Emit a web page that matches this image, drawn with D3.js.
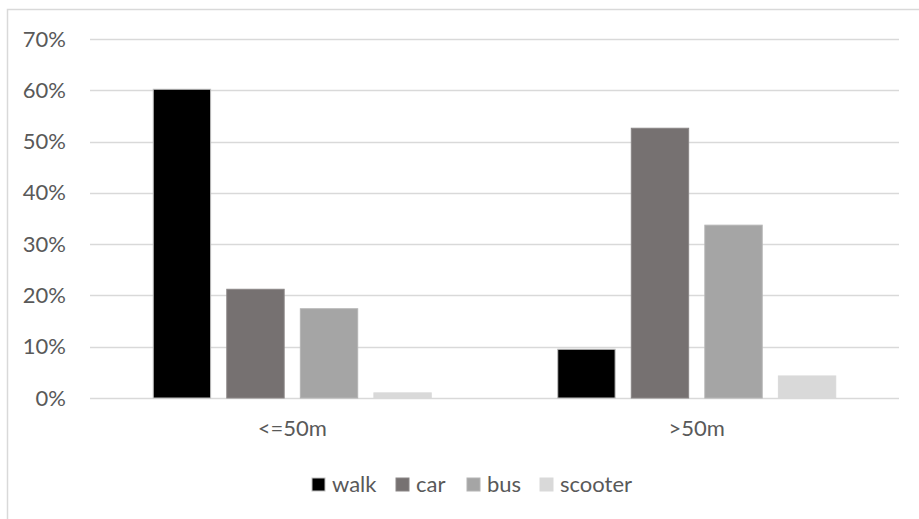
<!DOCTYPE html>
<html>
<head>
<meta charset="utf-8">
<script src="https://cdn.jsdelivr.net/npm/d3@7"></script>
<style>
  html, body { margin: 0; padding: 0; background: #fff; }
  svg { display: block; }
  text { font-family: Lato, "Noto Sans", sans-serif; fill: #595959; }
</style>
</head>
<body>
<svg id="chart" width="919" height="519"></svg>
<script>
const categories = ["<=50m", ">50m"];
const series = ["walk", "car", "bus", "scooter"];
const walk = [60.2, 9.5];
const car = [21.2, 52.6];
const bus = [17.4, 33.7];
const scooter = [1.0, 4.3];
const yTicks = [0, 10, 20, 30, 40, 50, 60, 70];

const values = { walk, car, bus, scooter };
const colors = { walk: "#000000", car: "#767171", bus: "#a5a5a5", scooter: "#d9d9d9" };
const strokes = { walk: "#bfbfbf", car: "#8a8686", bus: "#b4b4b4", scooter: "#d9d9d9" };
const fontSize = 22;

const svg = d3.select("#chart");
const plot = { left: 90, right: 899, top: 39, bottom: 398 };

// outer chart frame
svg.append("rect")
  .attr("x", 7.5).attr("y", 9.5)
  .attr("width", 930).attr("height", 530)
  .attr("fill", "none").attr("stroke", "#d9d9d9").attr("stroke-width", 1.5);

const y = d3.scaleLinear().domain([0, 70]).range([plot.bottom, plot.top]);
const x0 = d3.scaleBand().domain(categories).range([plot.left, plot.right]).padding(0);
const x1 = d3.scaleBand().domain(series).range([0, x0.bandwidth()])
  .paddingInner(0.22).paddingOuter(0.86);

// gridlines
svg.append("g")
  .selectAll("line")
  .data(yTicks)
  .join("line")
  .attr("x1", plot.left).attr("x2", plot.right)
  .attr("y1", d => Math.round(y(d)) + 0.5).attr("y2", d => Math.round(y(d)) + 0.5)
  .attr("stroke", "#d9d9d9").attr("stroke-width", 1.5);

// y axis labels
const yAxis = d3.axisLeft(y).tickValues(yTicks).tickFormat(d => d + "%").tickSize(0).tickPadding(24);
const gy = svg.append("g").attr("transform", `translate(${plot.left},0)`).call(yAxis);
gy.select(".domain").remove();
gy.selectAll("text").attr("font-size", fontSize).attr("fill", "#595959")
  .style("font-family", "Lato, 'Noto Sans', sans-serif");

// bars
const groups = svg.append("g")
  .selectAll("g")
  .data(categories)
  .join("g")
  .attr("transform", d => `translate(${x0(d)},0)`);

groups.selectAll("rect")
  .data((c, i) => series.map(s => ({ s, v: values[s][i] })))
  .join("rect")
  .attr("x", d => x1(d.s))
  .attr("width", x1.bandwidth())
  .attr("y", d => y(d.v))
  .attr("height", d => y(0) - y(d.v))
  .attr("fill", d => colors[d.s])
  .attr("stroke", d => strokes[d.s])
  .attr("stroke-width", 1);

// category axis
const xAxis = d3.axisBottom(x0).tickSize(0).tickPadding(22);
const gx = svg.append("g").attr("transform", `translate(0,${plot.bottom})`).call(xAxis);
gx.select(".domain").remove();
gx.selectAll("text").attr("font-size", fontSize).attr("fill", "#595959")
  .style("font-family", "Lato, 'Noto Sans', sans-serif");

// legend
const legendX = [312, 396, 467, 540];
const legend = svg.append("g")
  .selectAll("g")
  .data(series)
  .join("g")
  .attr("transform", (d, i) => `translate(${legendX[i]},478)`);
legend.append("rect")
  .attr("width", 13).attr("height", 13)
  .attr("fill", d => colors[d])
  .attr("stroke", d => strokes[d]).attr("stroke-width", 1);
legend.append("text")
  .attr("x", 20).attr("y", 14)
  .attr("font-size", fontSize)
  .text(d => d);
</script>
</body>
</html>
